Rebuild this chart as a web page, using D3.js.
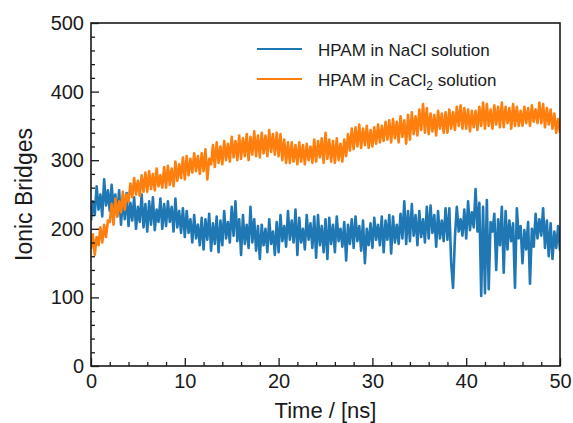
<!DOCTYPE html>
<html>
<head>
<meta charset="utf-8">
<script src="https://cdn.jsdelivr.net/npm/d3@7"></script>
<style>
  body { margin: 0; background: #fff; }
  text { font-family: "Liberation Sans", Arial, sans-serif; fill: #1a1a1a; }
</style>
</head>
<body>
<svg id="chart" width="573" height="423"></svg>
<script>
// sampling interval of both traces (ns)
var timeStep = 0.2;

// ionic bridges, HPAM in NaCl solution (every 0.2 ns)
var naclValues = [
  212,240,220,262,228,250,218,272,234,256,
  226,264,232,250,218,256,206,248,214,252,
  204,238,212,246,200,232,210,250,202,236,
  196,240,206,246,198,228,210,244,200,236,
  204,240,210,232,196,244,202,226,194,230,
  188,226,194,214,180,220,186,206,176,216,
  170,214,184,222,168,208,178,218,166,212,
  176,226,186,210,180,232,190,240,182,214,
  162,220,178,206,172,232,180,214,168,204,
  156,206,176,200,166,214,178,196,162,210,
  166,220,182,204,174,226,184,212,180,228,
  162,216,180,200,170,220,184,208,172,218,
  158,220,176,204,166,214,156,216,178,206,
  166,218,182,200,174,210,154,206,178,214,
  172,218,182,204,168,212,150,200,176,208,
  172,216,184,206,176,218,166,212,184,220,
  164,218,180,206,178,222,186,240,178,226,
  182,236,190,220,176,226,188,214,180,232,
  186,234,194,220,174,226,186,212,182,230,
  184,230,150,114,188,232,196,214,190,228,
  186,240,198,224,202,258,196,238,102,232,
  106,242,112,210,196,222,140,214,176,232,
  136,226,170,212,182,208,114,230,186,204,
  150,198,170,210,120,200,174,222,186,214,
  190,230,172,212,160,208,156,196,172,204,
  168
];

// ionic bridges, HPAM in CaCl2 solution
var caclValues = [
  170,192,162,188,176,202,180,206,188,212,
  210,236,206,244,218,240,224,254,228,250,
  240,266,246,274,250,270,248,278,254,282,
  254,284,258,280,256,288,262,278,260,290,
  260,292,264,288,262,298,270,294,274,304,
  272,306,278,302,282,310,284,306,280,310,
  284,316,272,302,294,322,290,326,296,320,
  294,328,300,324,298,334,304,328,300,336,
  302,332,306,338,300,334,308,342,306,336,
  304,340,310,336,306,344,312,338,308,340,
  306,338,300,330,296,326,296,326,298,322,
  294,326,298,322,294,324,300,320,296,330,
  298,328,304,332,296,340,302,330,298,328,
  296,332,300,324,298,330,306,338,314,346,
  316,348,320,352,318,346,322,350,318,344,
  320,348,324,352,326,350,328,356,330,358,
  326,360,332,356,326,364,334,358,324,366,
  330,370,338,364,336,374,344,382,340,376,
  338,368,342,366,336,372,346,368,340,370,
  340,374,346,370,344,378,350,380,346,376,
  346,374,342,372,348,372,344,378,350,384,
  346,382,350,374,346,380,352,378,348,384,
  348,378,354,376,346,382,350,378,350,372,
  350,378,354,376,350,380,356,374,354,384,
  354,382,348,376,352,374,346,368,340,360,
  340
];

var seriesNames = ["NaCl", "CaCl"];
var seriesColors = ["#1f77b4", "#ff7f0e"];
var xTickValues = [0, 10, 20, 30, 40, 50];
var yTickValues = [0, 100, 200, 300, 400, 500];

var margin = {left: 91, top: 23, right: 13, bottom: 57};
var W = 573, H = 423;
var w = W - margin.left - margin.right,
    h = H - margin.top - margin.bottom;

var svg = d3.select("#chart");
var g = svg.append("g").attr("transform", "translate(" + margin.left + "," + margin.top + ")");

var x = d3.scaleLinear().domain([0, 50]).range([0, w]);
var y = d3.scaleLinear().domain([0, 500]).range([h, 0]);

// clip so the traces stay inside the frame
g.append("clipPath").attr("id", "clip")
  .append("rect").attr("width", w).attr("height", h);

var line = d3.line()
  .x(function (d, i) { return x(i * timeStep); })
  .y(function (d) { return y(d); });

var traces = g.append("g").attr("clip-path", "url(#clip)");
[naclValues, caclValues].forEach(function (vals, k) {
  traces.append("path")
    .datum(vals)
    .attr("fill", "none")
    .attr("stroke", seriesColors[k])
    .attr("stroke-width", 2.6)
    .attr("stroke-linejoin", "round")
    .attr("d", line);
});

// axes: ticks point inwards, minor ticks without labels
var xMinor = d3.range(0, 51, 2).filter(function (v) { return v % 10 != 0; });
var yMinor = d3.range(0, 501, 20).filter(function (v) { return v % 100 != 0; });

var xAxis = g.append("g").attr("transform", "translate(0," + h + ")");
xAxis.call(d3.axisBottom(x).tickValues(xTickValues).tickSizeInner(-8).tickSizeOuter(0).tickPadding(8));
xAxis.append("g").call(d3.axisBottom(x).tickValues(xMinor).tickSizeInner(-4).tickSizeOuter(0).tickFormat(""));

var yAxis = g.append("g");
yAxis.call(d3.axisLeft(y).tickValues(yTickValues).tickSizeInner(-8).tickSizeOuter(0).tickPadding(7));
yAxis.append("g").call(d3.axisLeft(y).tickValues(yMinor).tickSizeInner(-4).tickSizeOuter(0).tickFormat(""));

svg.selectAll(".tick line").attr("stroke", "#1a1a1a").attr("stroke-width", 1.3);
svg.selectAll(".domain").remove();
svg.selectAll(".tick text").attr("font-size", "20px").attr("fill", "#1a1a1a");

// frame
g.append("rect")
  .attr("width", w).attr("height", h)
  .attr("fill", "none").attr("stroke", "#1a1a1a").attr("stroke-width", 1.6);

// axis titles
svg.append("text")
  .attr("x", margin.left + w / 2).attr("y", 418)
  .attr("text-anchor", "middle").attr("font-size", "22px")
  .text("Time / [ns]");

svg.append("text")
  .attr("transform", "translate(32," + (margin.top + h / 2) + ") rotate(-90)")
  .attr("text-anchor", "middle").attr("font-size", "23px")
  .text("Ionic Bridges");

// legend
var legend = svg.append("g").attr("transform", "translate(257,49)");
seriesNames.forEach(function (name, k) {
  var row = legend.append("g").attr("transform", "translate(0," + (k * 30) + ")");
  row.append("line").attr("x1", 0).attr("x2", 45)
    .attr("stroke", seriesColors[k]).attr("stroke-width", 2);
  var t = row.append("text").attr("x", 61).attr("y", 6.5).attr("font-size", "17px");
  if (name == "NaCl") {
    t.text("HPAM in NaCl solution");
  } else {
    t.append("tspan").text("HPAM in CaCl");
    t.append("tspan").attr("font-size", "12px").attr("dy", 4).text("2");
    t.append("tspan").attr("dy", -4).text(" solution");
  }
});
</script>
</body>
</html>
